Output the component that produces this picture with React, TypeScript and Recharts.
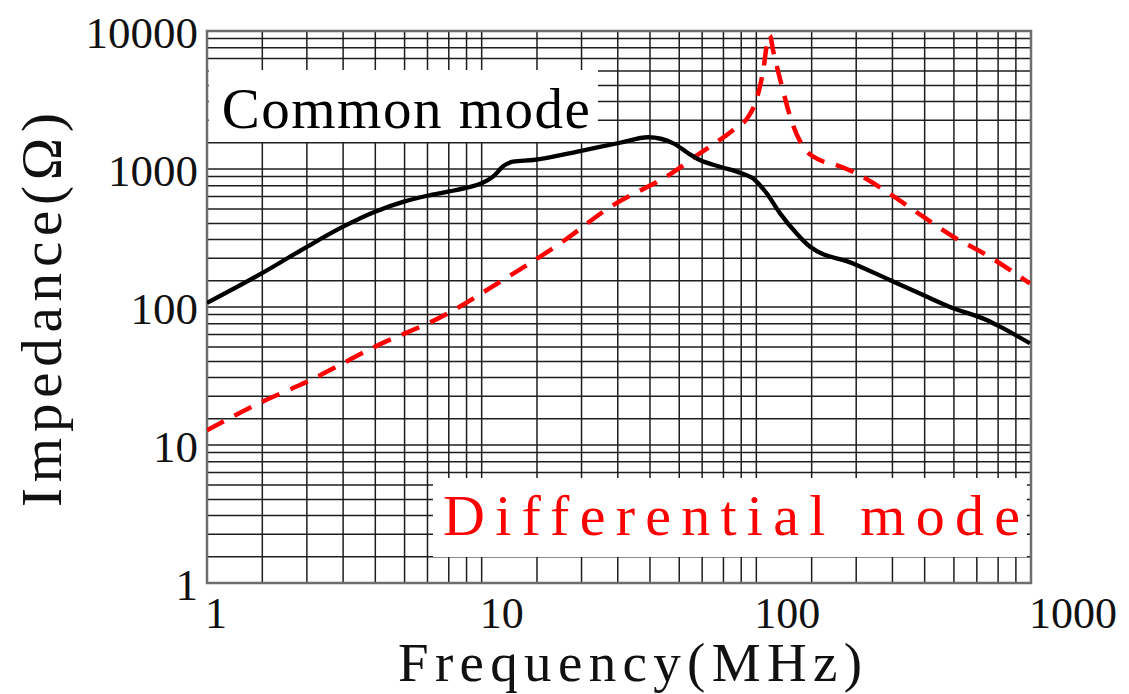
import React from 'react';
import { LineChart, Line, XAxis, YAxis, CartesianGrid, ReferenceArea, Label } from 'recharts';

// ---- data ----
const commonFreq = [1, 1.58, 2.31, 3.13, 4.09, 5.21, 6.34, 7.55, 8.82, 10, 11, 12, 13, 15.4, 22.8, 31.9, 40.4, 49.9, 56.5, 62.3, 73.7, 87.1, 98.9, 109, 122, 140, 157, 225, 306, 405, 507, 689, 771, 991];
const commonImp = [107, 175, 273, 382, 490, 580, 640, 685, 732, 788, 880, 1051, 1130, 1162, 1349, 1550, 1698, 1535, 1300, 1162, 1039, 940, 832, 667, 477, 342, 273, 207, 157, 122, 100, 80.5, 72, 54.6];

const diffFreq = [1, 1.59, 2.31, 4.09, 7.55, 10.9, 20.1, 28.5, 51.3, 59.8, 67.8, 82.4, 93.5, 100, 106, 110, 112, 115, 124, 134, 148, 170, 190.6, 225, 298, 405, 521, 689, 991];
const diffImp = [12.8, 20.6, 28.7, 51.6, 90, 140, 306, 510, 984, 1228, 1452, 1918, 2393, 3162, 5216, 8600, 9300, 7280, 3950, 2265, 1452, 1162, 1087, 955, 685, 451, 323, 238, 148];

const xDecades = [1, 10, 100];
const xSubSteps = [1, 1.59, 2.31, 3.13, 4.1, 5.24, 6.35, 7.59, 8.81];
const yDecades = [1, 10, 100, 1000];
const ySubSteps = [1, 1.55, 2.26, 3.08, 4.03, 5.14, 6.31, 7.57, 8.83];
const xLabels = [1, 10, 100, 1000];
const yLabels = [1, 10, 100, 1000, 10000];

const xTicks = [...xDecades.flatMap((d) => xSubSteps.map((s) => +(d * s).toPrecision(5))), 1000];
const yTicks = [...yDecades.flatMap((d) => ySubSteps.map((s) => +(d * s).toPrecision(5))), 10000];

const commonData = commonFreq.map((f, i) => ({ f, z: commonImp[i] }));
const diffData = diffFreq.map((f, i) => ({ f, z: diffImp[i] }));

const FONT = '"Liberation Serif", "DejaVu Serif", serif';

const XTick = (props: any) => {
  const { x, y, payload } = props;
  if (!xLabels.includes(payload.value)) return <g />;
  return (
    <text x={x - 2} y={y + 37} textAnchor="start" fontFamily={FONT} fontSize={44} fill="#111">
      {payload.value}
    </text>
  );
};

const YTick = (props: any) => {
  const { x, y, payload } = props;
  if (!yLabels.includes(payload.value)) return <g />;
  return (
    <text x={x - 1} y={y + 17} textAnchor="end" fontFamily={FONT} fontSize={45} fill="#111">
      {payload.value}
    </text>
  );
};

const XTitle = (props: any) => {
  const vb = props.viewBox || { x: 199, y: 575, width: 824, height: 111 };
  return (
    <text x={vb.x + vb.width / 2 + 11} y={vb.y + 98} textAnchor="middle" fontFamily={FONT} fontSize={55} fill="#111" textLength={464} lengthAdjust="spacing">
      Frequency(MHz)
    </text>
  );
};

const YTitle = (props: any) => {
  const cx = 53;
  const cy = 302;
  return (
    <text x={cx} y={cy} transform={`rotate(-90 ${cx} ${cy})`} textAnchor="middle" fontFamily={FONT} fontSize={57} fill="#111" textLength={394} lengthAdjust="spacing">
      Impedance(Ω)
    </text>
  );
};

const CommonLabel = (props: any) => {
  const vb = props.viewBox;
  if (!vb) return null;
  return (
    <text x={vb.x + 13} y={vb.y + 58} fontFamily={FONT} fontSize={57} fill="#000" textLength={368} lengthAdjust="spacing">
      Common mode
    </text>
  );
};

const DiffLabel = (props: any) => {
  const vb = props.viewBox;
  if (!vb) return null;
  return (
    <text x={vb.x + 10} y={vb.y + 57} fontFamily={FONT} fontSize={58} fill="#f00" textLength={577} lengthAdjust="spacing">
      Differential mode
    </text>
  );
};

export default function App() {
  return (
    <div style={{ width: 1113, height: 686, background: '#fff' }}>
      <LineChart width={1113} height={686} margin={{ top: 23, right: 90, bottom: 0, left: 0 }}>
        <CartesianGrid stroke="#1e1e1e" strokeWidth={1.5} verticalValues={xTicks} horizontalValues={yTicks} />
        <XAxis
          dataKey="f"
          type="number"
          scale="log"
          domain={[1, 1000]}
          ticks={xTicks}
          interval={0}
          allowDataOverflow
          tick={<XTick />}
          tickLine={false}
          axisLine={false}
          height={111}
          label={<Label content={<XTitle />} />}
        />
        <YAxis
          dataKey="z"
          type="number"
          scale="log"
          domain={[1, 10000]}
          ticks={yTicks}
          interval={0}
          allowDataOverflow
          tick={<YTick />}
          tickLine={false}
          axisLine={false}
          width={199}
          label={<Label content={<YTitle />} />}
        />
        <ReferenceArea x1={1.015} x2={26.5} y1={1570} y2={5216} fill="#fff" fillOpacity={1} stroke="none" label={<CommonLabel />} />
        <ReferenceArea x1={6.65} x2={966} y1={1.54} y2={5.76} fill="#fff" fillOpacity={1} stroke="none" label={<DiffLabel />} />
        <ReferenceArea x1={1} x2={1000} y1={1} y2={10000} fill="none" stroke="#6e6e6e" strokeWidth={2.5} />
        <Line data={diffData} dataKey="z" type="monotone" stroke="#f00" strokeWidth={4.5} strokeDasharray="19 12" dot={false} isAnimationActive={false} />
        <Line data={commonData} dataKey="z" type="monotone" stroke="#000" strokeWidth={4.3} dot={false} isAnimationActive={false} />
      </LineChart>
    </div>
  );
}
